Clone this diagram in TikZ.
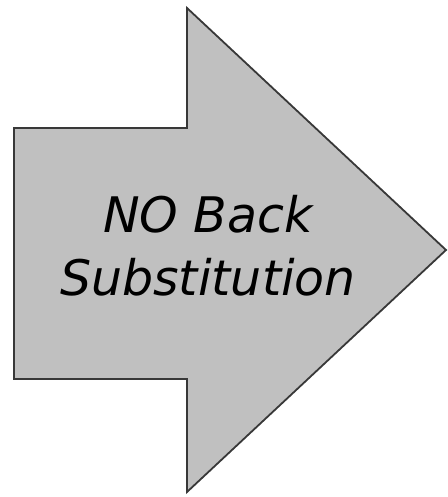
\documentclass[tikz,border=0pt]{standalone}
\usepackage{fontspec}
\setmainfont{DejaVu Sans}
\definecolor{arrowfill}{HTML}{C0C0C0}
\definecolor{arrowline}{HTML}{383838}
\begin{document}
\begin{tikzpicture}[x=1pt,y=-1pt,
  bigarrow/.style={fill=arrowfill,draw=arrowline,line width=1.8pt,line join=miter},
  label/.style={font=\fontsize{49}{63}\selectfont\itshape,text=black,align=center,inner sep=0pt}]
\useasboundingbox (0,0) rectangle (447,497);
\draw[bigarrow] (14,128) -- (187,128) -- (187,8) -- (446,250) -- (187,492) -- (187,379) -- (14,379) -- cycle;
\node[label,anchor=base] (t1) at (208,232) {NO Back};
\node[label,anchor=base] (t2) at (208,295) {Substitution};
\end{tikzpicture}
\end{document}
